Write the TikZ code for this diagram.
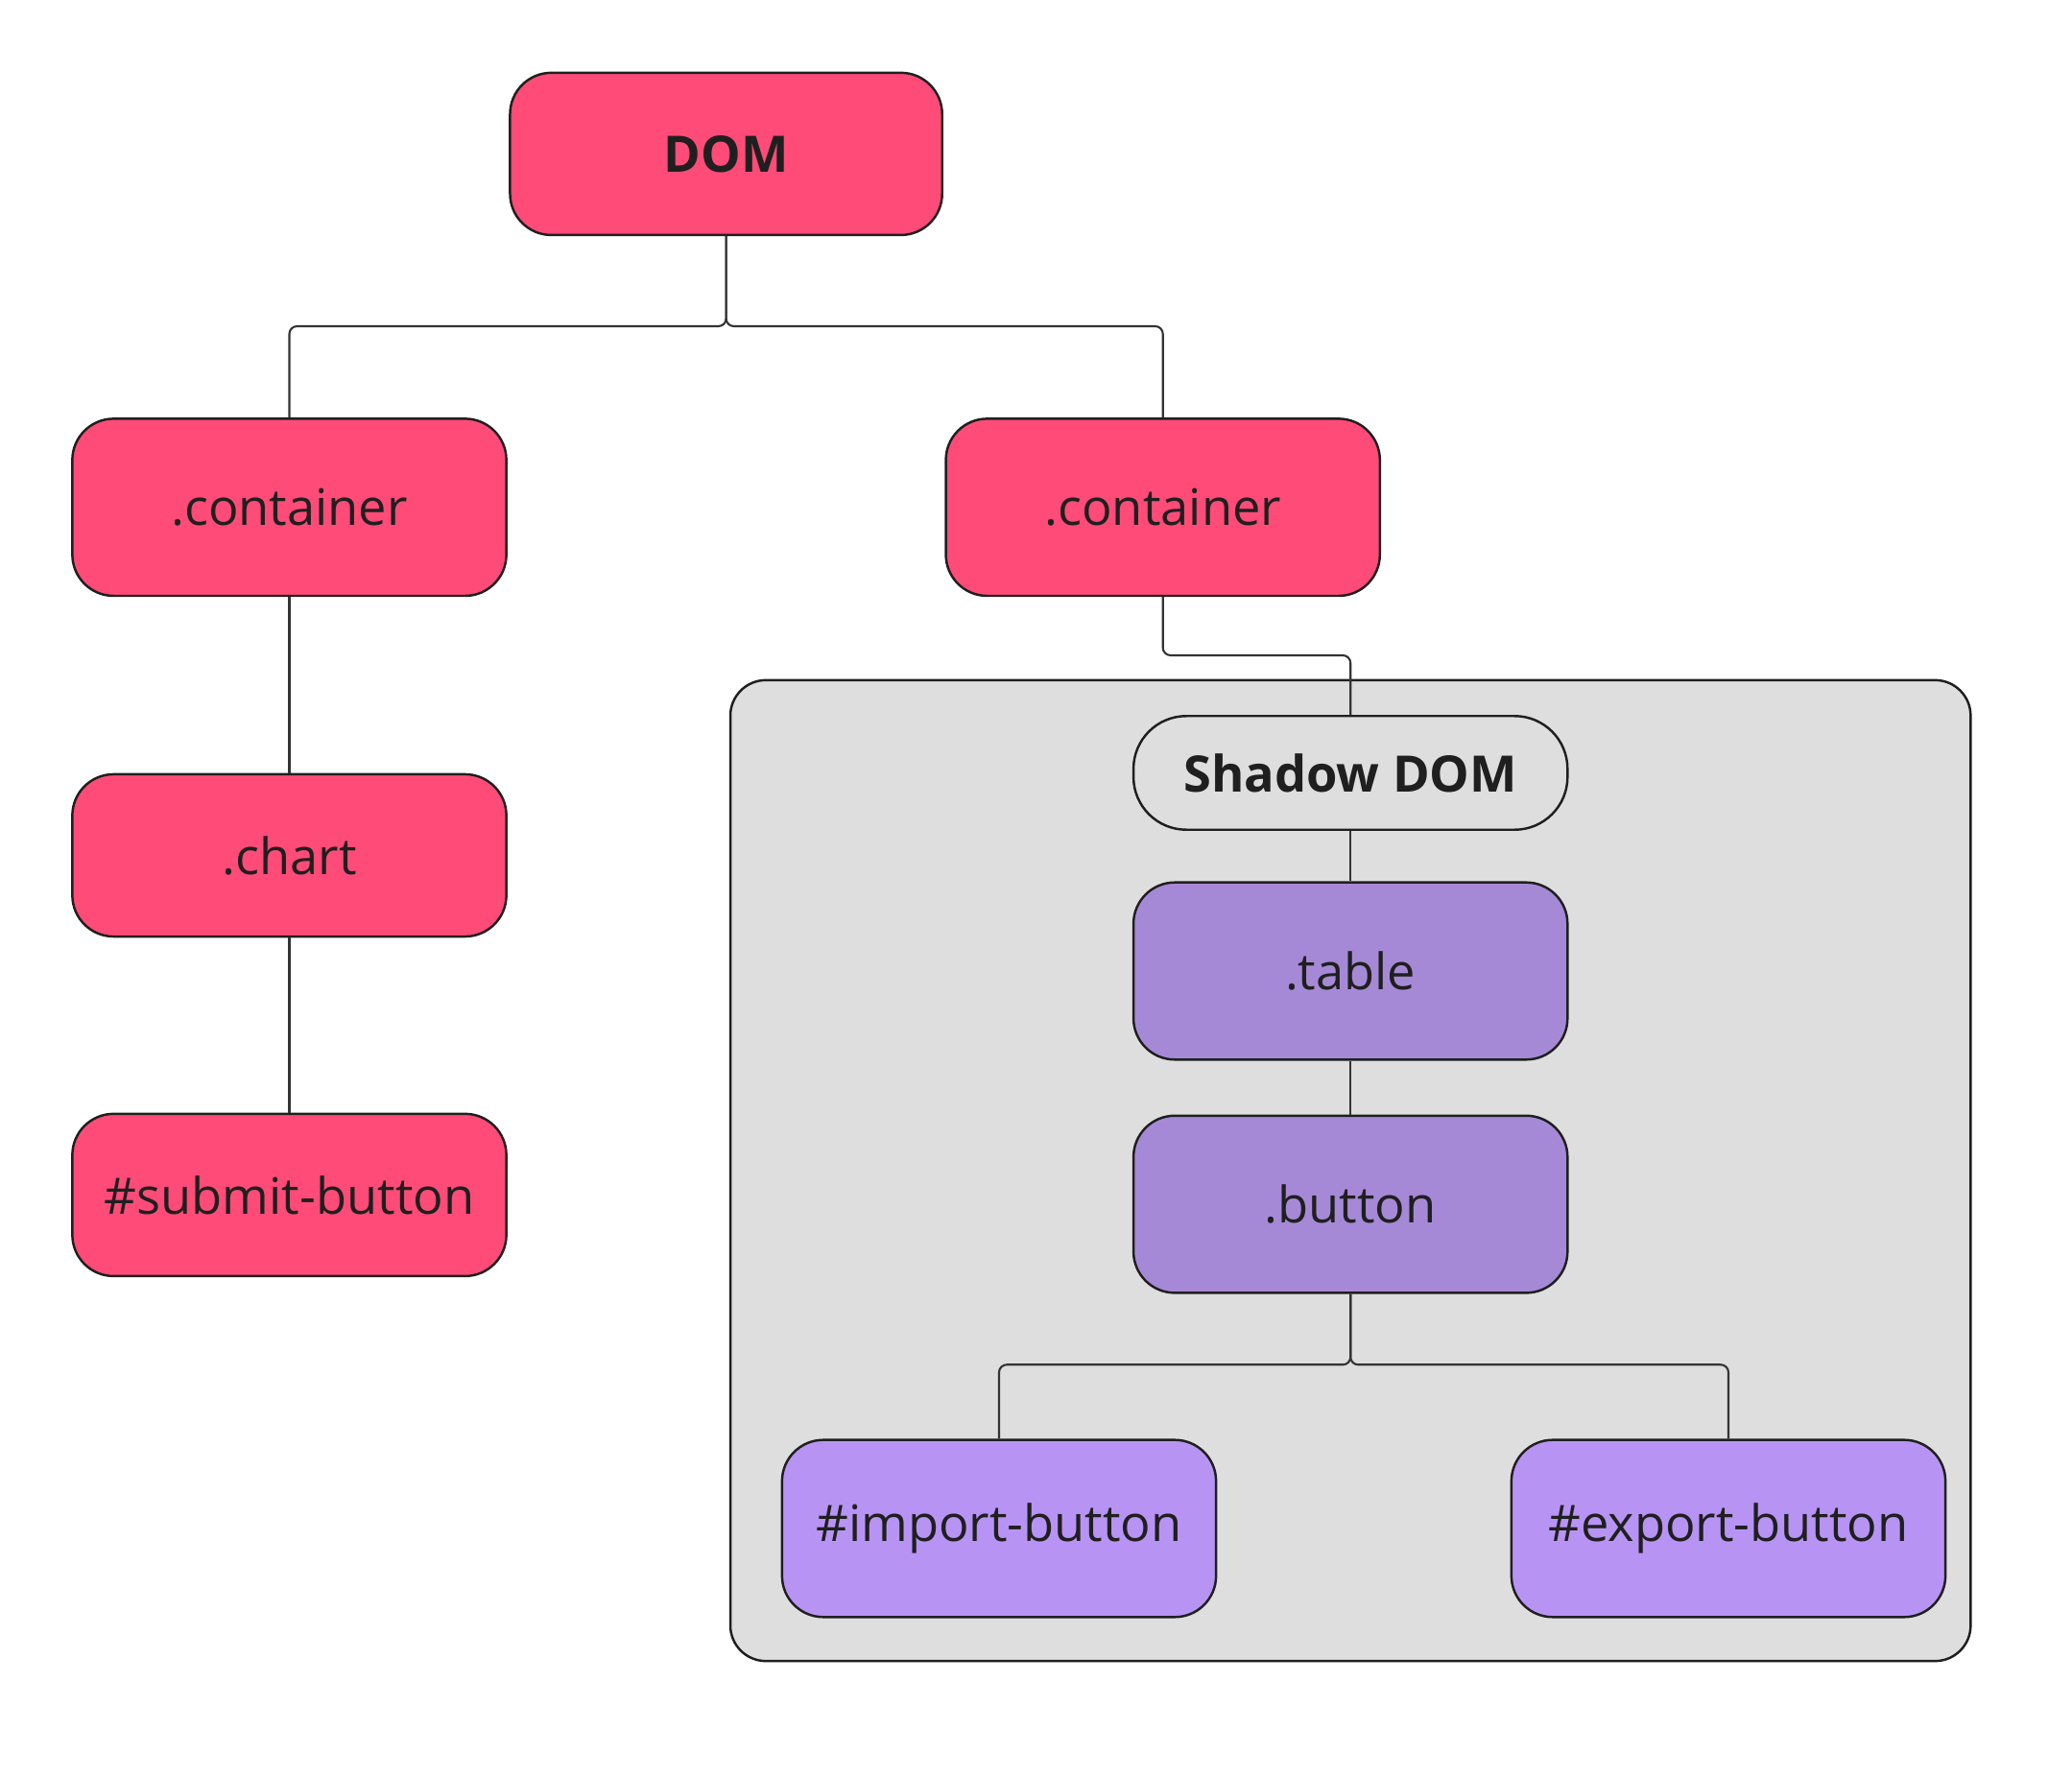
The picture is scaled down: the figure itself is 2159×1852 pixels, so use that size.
\documentclass[tikz,border=0pt]{standalone}
\usepackage{fontspec}
\setmainfont{Open Sans}
\usetikzlibrary{positioning}

\definecolor{dompink}{HTML}{FF4B77}
\definecolor{shadowpurple}{HTML}{A689D6}
\definecolor{leafpurple}{HTML}{B794F4}
\definecolor{shadowgrey}{HTML}{DEDEDE}
\definecolor{edgegrey}{HTML}{333333}

\tikzset{
  box/.style={draw=black!88, line width=0.7pt, rounded corners=0.43cm,
    minimum width=4.52cm, minimum height=1.845cm, text=black!88,
    font=\fontsize{14.9}{17}\selectfont},
  boldbox/.style={box, font=\fontsize{14.9}{17}\selectfont\bfseries},
  domnode/.style={box, fill=dompink},
  shadownode/.style={box, fill=shadowpurple},
  leafnode/.style={box, fill=leafpurple},
  link/.style={draw=edgegrey, line width=0.6pt, rounded corners=0.08cm}
}

\begin{document}
\begin{tikzpicture}[x=0.01cm,y=-0.01cm]
	\useasboundingbox (0,0) rectangle (2159,1852);
	% shadow root area
	\node[draw=black!88, line width=0.7pt, fill=shadowgrey, rounded corners=0.37cm,
	  minimum width=12.916cm, minimum height=10.217cm] (area) at (1407.2,1220) {};

	\node[boldbox, fill=dompink, minimum width=4.5cm, minimum height=1.69cm] (dom) at (756.6,160.4) {DOM};
	\node[domnode] (cont_1) at (301.5,528.7) {.container};
	\node[domnode] (cont_2) at (1211.7,528.7) {.container};
	\node[domnode, minimum height=1.69cm] (chart) at (301.5,891.5) {.chart};
	\node[domnode, minimum height=1.69cm] (submit) at (301.5,1245.4) {\#submit-button};

	\node[boldbox, fill=shadowgrey, rounded corners=0.55cm, minimum height=1.184cm] (shdom) at (1407.2,805.5) {Shadow DOM};
	\node[shadownode] (table) at (1407.2,1012) {.table};
	\node[shadownode] (button) [below=0.56cm of table] {.button};
	\node[leafnode] (import) at (1041,1593) {\#import-button};
	\node[leafnode] (export) at (1801,1593) {\#export-button};

	\draw[link] (dom.south) -- (dom.south |- 0,340) -| (cont_1.north);
	\draw[link] (dom.south) -- (dom.south |- 0,340) -| (cont_2.north);
	\draw[link] (cont_1.south) -- (chart.north);
	\draw[link] (chart.south) -- (submit.north);
	\draw[link] (cont_2.south) -- (cont_2.south |- 0,683) -| (shdom.north);
	\draw[link] (shdom.south) -- (table.north);
	\draw[link] (table.south) -- (button.north);
	\draw[link] (button.south) -- (button.south |- 0,1422.3) -| (import.north);
	\draw[link] (button.south) -- (button.south |- 0,1422.3) -| (export.north);
\end{tikzpicture}
\end{document}
